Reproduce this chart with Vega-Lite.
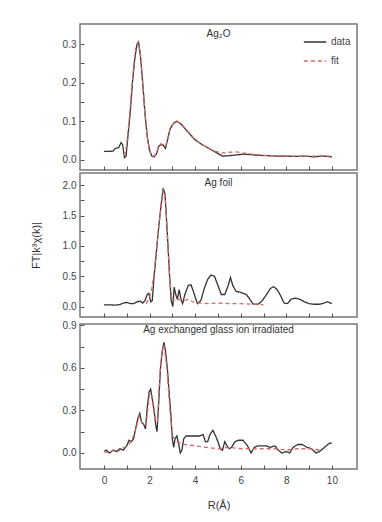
{
  "$schema": "https://vega.github.io/schema/vega-lite/v6.json",
  "padding": {"left": 29, "top": 23, "right": 5, "bottom": 5},
  "spacing": 0,
  "config": {
    "font": "Liberation Sans",
    "view": {"stroke": "#777", "strokeWidth": 1.5},
    "axis": {"labelFont": "Liberation Sans", "labelFontSize": 10, "labelColor": "#444", "tickColor": "#555", "tickSize": 4, "offset": -4, "domain": false, "grid": false, "titleFont": "Liberation Sans", "titleFontWeight": "normal", "titleFontSize": 11, "titleColor": "#333"},
    "title": {"font": "Liberation Sans", "fontSize": 10, "fontWeight": "normal", "color": "#333", "anchor": "middle", "offset": -15}
  },
  "resolve": {"scale": {"color": "independent", "strokeDash": "independent"}, "legend": {"color": "independent", "strokeDash": "independent"}},
  "datasets": {
    "p1": [
      {"R":0,"v":0.022,"s":"data"},{"R":0.2,"v":0.022,"s":"data"},{"R":0.4,"v":0.023,"s":"data"},{"R":0.5,"v":0.03,"s":"data"},{"R":0.65,"v":0.032,"s":"data"},{"R":0.75,"v":0.045,"s":"data"},{"R":0.82,"v":0.04,"s":"data"},{"R":0.9,"v":0.006,"s":"data"},{"R":0.97,"v":0.01,"s":"data"},{"R":1.05,"v":0.06,"s":"data"},{"R":1.15,"v":0.12,"s":"data"},{"R":1.25,"v":0.2,"s":"data"},{"R":1.35,"v":0.26,"s":"data"},{"R":1.45,"v":0.3,"s":"data"},{"R":1.52,"v":0.305,"s":"data"},{"R":1.6,"v":0.27,"s":"data"},{"R":1.7,"v":0.2,"s":"data"},{"R":1.8,"v":0.12,"s":"data"},{"R":1.9,"v":0.06,"s":"data"},{"R":2.0,"v":0.025,"s":"data"},{"R":2.1,"v":0.01,"s":"data"},{"R":2.2,"v":0.008,"s":"data"},{"R":2.3,"v":0.015,"s":"data"},{"R":2.4,"v":0.035,"s":"data"},{"R":2.5,"v":0.04,"s":"data"},{"R":2.6,"v":0.038,"s":"data"},{"R":2.7,"v":0.03,"s":"data"},{"R":2.8,"v":0.055,"s":"data"},{"R":2.9,"v":0.08,"s":"data"},{"R":3.05,"v":0.095,"s":"data"},{"R":3.2,"v":0.1,"s":"data"},{"R":3.4,"v":0.092,"s":"data"},{"R":3.6,"v":0.078,"s":"data"},{"R":3.8,"v":0.065,"s":"data"},{"R":4.0,"v":0.052,"s":"data"},{"R":4.3,"v":0.04,"s":"data"},{"R":4.6,"v":0.03,"s":"data"},{"R":4.9,"v":0.02,"s":"data"},{"R":5.2,"v":0.01,"s":"data"},{"R":5.5,"v":0.011,"s":"data"},{"R":5.8,"v":0.013,"s":"data"},{"R":6.1,"v":0.015,"s":"data"},{"R":6.4,"v":0.014,"s":"data"},{"R":6.8,"v":0.012,"s":"data"},{"R":7.2,"v":0.011,"s":"data"},{"R":7.6,"v":0.01,"s":"data"},{"R":8.0,"v":0.01,"s":"data"},{"R":8.4,"v":0.009,"s":"data"},{"R":8.8,"v":0.01,"s":"data"},{"R":9.2,"v":0.008,"s":"data"},{"R":9.6,"v":0.01,"s":"data"},{"R":10.0,"v":0.008,"s":"data"},
      {"R":0.9,"v":0.01,"s":"fit"},{"R":1.0,"v":0.04,"s":"fit"},{"R":1.1,"v":0.1,"s":"fit"},{"R":1.2,"v":0.17,"s":"fit"},{"R":1.3,"v":0.24,"s":"fit"},{"R":1.4,"v":0.29,"s":"fit"},{"R":1.5,"v":0.305,"s":"fit"},{"R":1.6,"v":0.275,"s":"fit"},{"R":1.7,"v":0.2,"s":"fit"},{"R":1.8,"v":0.12,"s":"fit"},{"R":1.9,"v":0.06,"s":"fit"},{"R":2.0,"v":0.025,"s":"fit"},{"R":2.1,"v":0.012,"s":"fit"},{"R":2.2,"v":0.01,"s":"fit"},{"R":2.3,"v":0.018,"s":"fit"},{"R":2.4,"v":0.035,"s":"fit"},{"R":2.5,"v":0.042,"s":"fit"},{"R":2.6,"v":0.04,"s":"fit"},{"R":2.7,"v":0.035,"s":"fit"},{"R":2.8,"v":0.055,"s":"fit"},{"R":2.9,"v":0.08,"s":"fit"},{"R":3.05,"v":0.095,"s":"fit"},{"R":3.2,"v":0.1,"s":"fit"},{"R":3.4,"v":0.093,"s":"fit"},{"R":3.6,"v":0.079,"s":"fit"},{"R":3.8,"v":0.066,"s":"fit"},{"R":4.0,"v":0.053,"s":"fit"},{"R":4.3,"v":0.04,"s":"fit"},{"R":4.6,"v":0.03,"s":"fit"},{"R":4.9,"v":0.022,"s":"fit"},{"R":5.2,"v":0.018,"s":"fit"},{"R":5.5,"v":0.02,"s":"fit"},{"R":5.8,"v":0.021,"s":"fit"},{"R":6.1,"v":0.018,"s":"fit"},{"R":6.5,"v":0.015,"s":"fit"},{"R":7,"v":0.012,"s":"fit"},{"R":7.5,"v":0.011,"s":"fit"},{"R":8,"v":0.01,"s":"fit"},{"R":8.5,"v":0.01,"s":"fit"},{"R":9,"v":0.01,"s":"fit"},{"R":9.5,"v":0.01,"s":"fit"},{"R":10,"v":0.01,"s":"fit"}
    ],
    "p2": [
      {"R":0,"v":0.03,"s":"data"},{"R":0.3,"v":0.03,"s":"data"},{"R":0.5,"v":0.025,"s":"data"},{"R":0.7,"v":0.035,"s":"data"},{"R":0.85,"v":0.06,"s":"data"},{"R":1.0,"v":0.07,"s":"data"},{"R":1.15,"v":0.05,"s":"data"},{"R":1.3,"v":0.05,"s":"data"},{"R":1.45,"v":0.08,"s":"data"},{"R":1.6,"v":0.09,"s":"data"},{"R":1.7,"v":0.06,"s":"data"},{"R":1.8,"v":0.1,"s":"data"},{"R":1.9,"v":0.2,"s":"data"},{"R":1.97,"v":0.22,"s":"data"},{"R":2.05,"v":0.08,"s":"data"},{"R":2.12,"v":0.1,"s":"data"},{"R":2.2,"v":0.5,"s":"data"},{"R":2.3,"v":0.9,"s":"data"},{"R":2.4,"v":1.3,"s":"data"},{"R":2.5,"v":1.65,"s":"data"},{"R":2.6,"v":1.95,"s":"data"},{"R":2.68,"v":1.85,"s":"data"},{"R":2.78,"v":1.2,"s":"data"},{"R":2.88,"v":0.5,"s":"data"},{"R":2.95,"v":0.1,"s":"data"},{"R":3.02,"v":0.0,"s":"data"},{"R":3.08,"v":0.32,"s":"data"},{"R":3.15,"v":0.2,"s":"data"},{"R":3.22,"v":0.12,"s":"data"},{"R":3.3,"v":0.28,"s":"data"},{"R":3.38,"v":0.12,"s":"data"},{"R":3.45,"v":0.05,"s":"data"},{"R":3.55,"v":0.2,"s":"data"},{"R":3.7,"v":0.35,"s":"data"},{"R":3.82,"v":0.36,"s":"data"},{"R":3.95,"v":0.22,"s":"data"},{"R":4.1,"v":0.05,"s":"data"},{"R":4.25,"v":0.1,"s":"data"},{"R":4.4,"v":0.3,"s":"data"},{"R":4.55,"v":0.45,"s":"data"},{"R":4.7,"v":0.52,"s":"data"},{"R":4.85,"v":0.5,"s":"data"},{"R":5.0,"v":0.35,"s":"data"},{"R":5.15,"v":0.2,"s":"data"},{"R":5.3,"v":0.2,"s":"data"},{"R":5.45,"v":0.35,"s":"data"},{"R":5.55,"v":0.48,"s":"data"},{"R":5.65,"v":0.35,"s":"data"},{"R":5.8,"v":0.25,"s":"data"},{"R":5.95,"v":0.24,"s":"data"},{"R":6.1,"v":0.22,"s":"data"},{"R":6.25,"v":0.2,"s":"data"},{"R":6.4,"v":0.12,"s":"data"},{"R":6.55,"v":0.04,"s":"data"},{"R":6.75,"v":0.04,"s":"data"},{"R":6.9,"v":0.08,"s":"data"},{"R":7.1,"v":0.18,"s":"data"},{"R":7.3,"v":0.3,"s":"data"},{"R":7.45,"v":0.33,"s":"data"},{"R":7.6,"v":0.28,"s":"data"},{"R":7.75,"v":0.18,"s":"data"},{"R":7.9,"v":0.06,"s":"data"},{"R":8.05,"v":0.05,"s":"data"},{"R":8.2,"v":0.12,"s":"data"},{"R":8.4,"v":0.14,"s":"data"},{"R":8.6,"v":0.12,"s":"data"},{"R":8.8,"v":0.08,"s":"data"},{"R":9.0,"v":0.05,"s":"data"},{"R":9.2,"v":0.04,"s":"data"},{"R":9.45,"v":0.04,"s":"data"},{"R":9.65,"v":0.06,"s":"data"},{"R":9.8,"v":0.08,"s":"data"},{"R":10,"v":0.05,"s":"data"},
      {"R":1.85,"v":0.05,"s":"fit"},{"R":2.0,"v":0.15,"s":"fit"},{"R":2.1,"v":0.3,"s":"fit"},{"R":2.2,"v":0.55,"s":"fit"},{"R":2.3,"v":0.9,"s":"fit"},{"R":2.4,"v":1.3,"s":"fit"},{"R":2.5,"v":1.65,"s":"fit"},{"R":2.6,"v":1.92,"s":"fit"},{"R":2.68,"v":1.85,"s":"fit"},{"R":2.78,"v":1.2,"s":"fit"},{"R":2.88,"v":0.5,"s":"fit"},{"R":2.97,"v":0.15,"s":"fit"},{"R":3.1,"v":0.1,"s":"fit"},{"R":3.3,"v":0.12,"s":"fit"},{"R":3.5,"v":0.1,"s":"fit"},{"R":3.7,"v":0.12,"s":"fit"},{"R":3.9,"v":0.08,"s":"fit"},{"R":4.2,"v":0.06,"s":"fit"},{"R":4.6,"v":0.05,"s":"fit"},{"R":5,"v":0.06,"s":"fit"},{"R":5.5,"v":0.05,"s":"fit"},{"R":6,"v":0.05,"s":"fit"},{"R":6.5,"v":0.04,"s":"fit"},{"R":7,"v":0.03,"s":"fit"}
    ],
    "p3": [
      {"R":0,"v":0.01,"s":"data"},{"R":0.1,"v":0.02,"s":"data"},{"R":0.25,"v":0.0,"s":"data"},{"R":0.4,"v":0.02,"s":"data"},{"R":0.55,"v":0.01,"s":"data"},{"R":0.7,"v":0.03,"s":"data"},{"R":0.85,"v":0.02,"s":"data"},{"R":1.0,"v":0.05,"s":"data"},{"R":1.1,"v":0.09,"s":"data"},{"R":1.2,"v":0.08,"s":"data"},{"R":1.3,"v":0.1,"s":"data"},{"R":1.4,"v":0.18,"s":"data"},{"R":1.5,"v":0.25,"s":"data"},{"R":1.57,"v":0.28,"s":"data"},{"R":1.65,"v":0.22,"s":"data"},{"R":1.75,"v":0.2,"s":"data"},{"R":1.82,"v":0.17,"s":"data"},{"R":1.9,"v":0.32,"s":"data"},{"R":1.98,"v":0.43,"s":"data"},{"R":2.05,"v":0.45,"s":"data"},{"R":2.12,"v":0.38,"s":"data"},{"R":2.2,"v":0.3,"s":"data"},{"R":2.27,"v":0.2,"s":"data"},{"R":2.33,"v":0.15,"s":"data"},{"R":2.4,"v":0.35,"s":"data"},{"R":2.48,"v":0.6,"s":"data"},{"R":2.56,"v":0.72,"s":"data"},{"R":2.63,"v":0.78,"s":"data"},{"R":2.7,"v":0.72,"s":"data"},{"R":2.78,"v":0.6,"s":"data"},{"R":2.85,"v":0.45,"s":"data"},{"R":2.93,"v":0.28,"s":"data"},{"R":3.0,"v":0.1,"s":"data"},{"R":3.06,"v":0.04,"s":"data"},{"R":3.12,"v":0.1,"s":"data"},{"R":3.2,"v":0.12,"s":"data"},{"R":3.28,"v":0.06,"s":"data"},{"R":3.35,"v":0.0,"s":"data"},{"R":3.42,"v":0.02,"s":"data"},{"R":3.5,"v":0.1,"s":"data"},{"R":3.6,"v":0.12,"s":"data"},{"R":3.8,"v":0.12,"s":"data"},{"R":4.0,"v":0.12,"s":"data"},{"R":4.2,"v":0.12,"s":"data"},{"R":4.35,"v":0.13,"s":"data"},{"R":4.45,"v":0.08,"s":"data"},{"R":4.55,"v":0.08,"s":"data"},{"R":4.65,"v":0.13,"s":"data"},{"R":4.78,"v":0.16,"s":"data"},{"R":4.9,"v":0.12,"s":"data"},{"R":5.0,"v":0.08,"s":"data"},{"R":5.1,"v":0.03,"s":"data"},{"R":5.2,"v":0.02,"s":"data"},{"R":5.3,"v":0.08,"s":"data"},{"R":5.4,"v":0.05,"s":"data"},{"R":5.5,"v":0.03,"s":"data"},{"R":5.6,"v":0.04,"s":"data"},{"R":5.75,"v":0.08,"s":"data"},{"R":5.9,"v":0.09,"s":"data"},{"R":6.1,"v":0.09,"s":"data"},{"R":6.3,"v":0.05,"s":"data"},{"R":6.45,"v":0.0,"s":"data"},{"R":6.6,"v":0.04,"s":"data"},{"R":6.75,"v":0.05,"s":"data"},{"R":6.9,"v":0.05,"s":"data"},{"R":7.1,"v":0.05,"s":"data"},{"R":7.3,"v":0.04,"s":"data"},{"R":7.5,"v":0.05,"s":"data"},{"R":7.65,"v":0.02,"s":"data"},{"R":7.8,"v":0.0,"s":"data"},{"R":8.0,"v":0.01,"s":"data"},{"R":8.15,"v":0.0,"s":"data"},{"R":8.3,"v":0.04,"s":"data"},{"R":8.5,"v":0.06,"s":"data"},{"R":8.7,"v":0.06,"s":"data"},{"R":8.9,"v":0.04,"s":"data"},{"R":9.1,"v":0.03,"s":"data"},{"R":9.3,"v":0.0,"s":"data"},{"R":9.45,"v":0.01,"s":"data"},{"R":9.6,"v":0.03,"s":"data"},{"R":9.75,"v":0.05,"s":"data"},{"R":9.9,"v":0.07,"s":"data"},{"R":10,"v":0.07,"s":"data"},
      {"R":0,"v":0.01,"s":"fit"},{"R":0.2,"v":0.0,"s":"fit"},{"R":0.4,"v":0.02,"s":"fit"},{"R":0.6,"v":0.01,"s":"fit"},{"R":0.8,"v":0.03,"s":"fit"},{"R":1.0,"v":0.05,"s":"fit"},{"R":1.2,"v":0.08,"s":"fit"},{"R":1.4,"v":0.17,"s":"fit"},{"R":1.55,"v":0.26,"s":"fit"},{"R":1.7,"v":0.2,"s":"fit"},{"R":1.85,"v":0.2,"s":"fit"},{"R":2.0,"v":0.42,"s":"fit"},{"R":2.1,"v":0.4,"s":"fit"},{"R":2.25,"v":0.24,"s":"fit"},{"R":2.35,"v":0.22,"s":"fit"},{"R":2.45,"v":0.55,"s":"fit"},{"R":2.55,"v":0.72,"s":"fit"},{"R":2.63,"v":0.76,"s":"fit"},{"R":2.75,"v":0.62,"s":"fit"},{"R":2.9,"v":0.3,"s":"fit"},{"R":3.0,"v":0.12,"s":"fit"},{"R":3.2,"v":0.08,"s":"fit"},{"R":3.5,"v":0.06,"s":"fit"},{"R":4.0,"v":0.05,"s":"fit"},{"R":4.5,"v":0.04,"s":"fit"},{"R":5,"v":0.03,"s":"fit"},{"R":5.5,"v":0.04,"s":"fit"},{"R":6,"v":0.03,"s":"fit"},{"R":6.5,"v":0.03,"s":"fit"},{"R":7,"v":0.03,"s":"fit"},{"R":7.5,"v":0.03,"s":"fit"},{"R":8,"v":0.02,"s":"fit"},{"R":8.5,"v":0.03,"s":"fit"},{"R":9,"v":0.03,"s":"fit"},{"R":9.5,"v":0.02,"s":"fit"}
    ]
  },
  "vconcat": [
    {
      "width": 277, "height": 146,
      "title": {"text": "Ag₂O"},
      "data": {"name": "p1"},
      "mark": {"type": "line", "strokeWidth": 1.3},
      "encoding": {
        "x": {"field": "R", "type": "quantitative", "scale": {"domain": [-1.05, 11.1], "nice": false, "zero": false}, "axis": {"values": [0,1,2,3,4,5,6,7,8,9,10], "labels": false, "title": null}},
        "y": {"field": "v", "type": "quantitative", "scale": {"domain": [-0.026, 0.352], "nice": false, "zero": false}, "axis": {"values": [0,0.05,0.1,0.15,0.2,0.25,0.3], "labelExpr": "abs(datum.value*10 - round(datum.value*10)) < 0.01 ? format(datum.value, '.1f') : ''", "labelPadding": 4, "title": null}},
        "color": {"field": "s", "type": "nominal", "scale": {"domain": ["data", "fit"], "range": ["#333333", "#d46a6a"]}, "legend": {"orient": "top-right", "offset": 6, "title": null, "labelFontSize": 10, "labelColor": "#444", "symbolStrokeWidth": 1.3, "symbolSize": 500, "rowPadding": 2, "labelFont": "Liberation Sans"}},
        "strokeDash": {"field": "s", "type": "nominal", "scale": {"domain": ["data", "fit"], "range": [[1, 0], [4, 3]]}, "legend": {"orient": "top-right", "offset": 6, "title": null}}
      }
    },
    {
      "width": 277, "height": 144,
      "title": {"text": "Ag foil"},
      "data": {"name": "p2"},
      "mark": {"type": "line", "strokeWidth": 1.3},
      "encoding": {
        "x": {"field": "R", "type": "quantitative", "scale": {"domain": [-1.05, 11.1], "nice": false, "zero": false}, "axis": {"values": [0,1,2,3,4,5,6,7,8,9,10], "labels": false, "title": null}},
        "y": {"field": "v", "type": "quantitative", "scale": {"domain": [-0.17, 2.2], "nice": false, "zero": false}, "axis": {"values": [0,0.25,0.5,0.75,1,1.25,1.5,1.75,2], "labelExpr": "abs(datum.value*2 - round(datum.value*2)) < 0.01 ? format(datum.value, '.1f') : ''", "labelPadding": 4, "title": "FT|k³χ(k)|", "titlePadding": 21}},
        "color": {"field": "s", "type": "nominal", "scale": {"domain": ["data", "fit"], "range": ["#333333", "#d46a6a"]}, "legend": null},
        "strokeDash": {"field": "s", "type": "nominal", "scale": {"domain": ["data", "fit"], "range": [[1, 0], [4, 3]]}, "legend": null}
      }
    },
    {
      "width": 277, "height": 145,
      "title": {"text": "Ag exchanged glass ion irradiated"},
      "data": {"name": "p3"},
      "mark": {"type": "line", "strokeWidth": 1.3},
      "encoding": {
        "x": {"field": "R", "type": "quantitative", "scale": {"domain": [-1.05, 11.1], "nice": false, "zero": false}, "axis": {"values": [0,1,2,3,4,5,6,7,8,9,10], "labelExpr": "datum.value % 2 == 0 ? datum.label : ''", "labelPadding": 6, "title": "R(Å)", "titlePadding": 14}},
        "y": {"field": "v", "type": "quantitative", "scale": {"domain": [-0.113, 0.91], "nice": false, "zero": false}, "axis": {"values": [0,0.15,0.3,0.45,0.6,0.75,0.9], "labelExpr": "abs(datum.value/0.3 - round(datum.value/0.3)) < 0.01 ? format(datum.value, '.1f') : ''", "labelPadding": 4, "title": null}},
        "color": {"field": "s", "type": "nominal", "scale": {"domain": ["data", "fit"], "range": ["#333333", "#d46a6a"]}, "legend": null},
        "strokeDash": {"field": "s", "type": "nominal", "scale": {"domain": ["data", "fit"], "range": [[1, 0], [4, 3]]}, "legend": null}
      }
    }
  ]
}
